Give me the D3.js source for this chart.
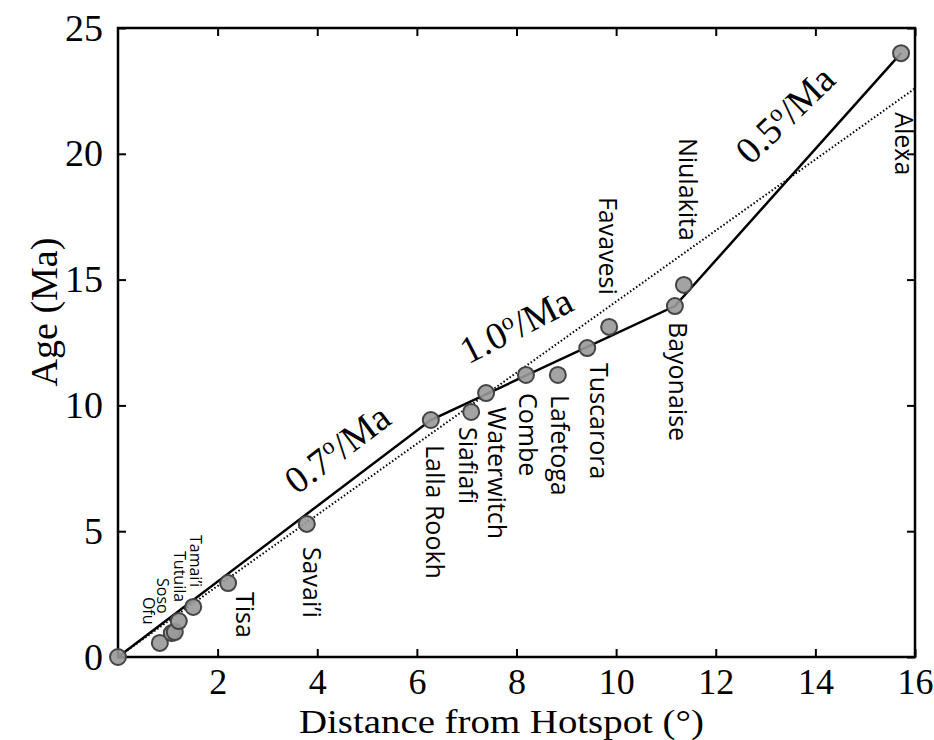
<!DOCTYPE html>
<html>
<head>
<meta charset="utf-8">
<script src="https://cdn.jsdelivr.net/npm/d3@7"></script>
<style>
  body { margin: 0; background: #fff; }
  svg { display: block; }
</style>
</head>
<body>
<svg id="chart" width="934" height="740"></svg>
<script>
// seamount distance from hotspot (deg) and age (Ma)
var names = ["", "Ofu", "Soso", "", "Tutuila", "Tamai\u2019i", "Tisa", "Savai\u2019i", "Lalla Rookh",
    "Siafiafi", "Waterwitch", "Combe", "Lafetoga", "Tuscarora", "Favavesi", "Bayonaise", "Niulakita", "Alexa"];
var distance = [0, 0.84, 1.08, 1.14, 1.22, 1.51, 2.21, 3.79, 6.28, 7.09, 7.39, 8.19, 8.83, 9.42, 9.86, 11.18, 11.36, 15.72];
var age = [0, 0.56, 0.95, 0.99, 1.43, 1.99, 2.94, 5.29, 9.42, 9.74, 10.49, 11.21, 11.21, 12.28, 13.12, 13.95, 14.79, 24.0];

// piecewise rate model and overall fit
var segDistance = [0, 6.28, 11.18, 15.72];
var segAge = [0, 9.42, 13.95, 24.0];
var fitDistance = [0, 16];
var fitAge = [0, 22.6];

var rateLabels = ["0.7", "1.0", "0.5"];
var xTicks = [2, 4, 6, 8, 10, 12, 14, 16];
var yTicks = [0, 5, 10, 15, 20, 25];

// label placement, px offsets from the point (rotated 90deg, reading down)
var labelOffset = {
    "Ofu": [-17, -46, 16], "Soso": [-15, -55, 16], "Tutuila": [-5, -70, 16], "Tamai\u2019i": [-3, -72, 16],
    "Tisa": [8, 9, 25], "Savai\u2019i": [-4, 23, 25], "Lalla Rookh": [-5, 25, 25], "Siafiafi": [-12, 15, 25],
    "Waterwitch": [2, 14, 25], "Combe": [-7, 18, 25], "Lafetoga": [-7, 20, 25], "Tuscarora": [3, 15, 25],
    "Favavesi": [-10, -130, 25], "Bayonaise": [-6, 16, 25], "Niulakita": [-5, -147, 25], "Alexa": [-6, 59, 25]
};
// rate label: angle, baseline centre x, y
var ratePlace = [[-37, 345, 459], [-27, 522, 337], [-44, 794, 124]];

var svg = d3.select('#chart');
var margin = {top: 28, right: 19, bottom: 83, left: 118},
    width = 934 - margin.left - margin.right,
    height = 740 - margin.top - margin.bottom;

var g = svg.append('g').attr('transform', 'translate(' + margin.left + ',' + margin.top + ')');

var xScale = d3.scaleLinear().domain([0, 16]).range([0, width]);
var yScale = d3.scaleLinear().domain([0, 25]).range([height, 0]);

var serif = '"Liberation Serif", "Times New Roman", serif';
var sans = '"Open Sans", "Liberation Sans", sans-serif';
var tickSize = 8;

// inward ticks on all four sides
var axes = [
    {axis: d3.axisBottom(xScale).tickValues(xTicks), t: 'translate(0,' + height + ')', labels: true},
    {axis: d3.axisTop(xScale).tickValues(xTicks), t: 'translate(0,0)', labels: false},
    {axis: d3.axisLeft(yScale).tickValues(yTicks), t: 'translate(0,0)', labels: true},
    {axis: d3.axisRight(yScale).tickValues(yTicks), t: 'translate(' + width + ',0)', labels: false}
];
axes.forEach(function(a, i) {
    a.axis.tickSizeInner(-tickSize).tickSizeOuter(0).tickPadding(tickSize + 12);
    var ag = g.append('g').attr('transform', a.t).call(a.axis);
    ag.select('.domain').remove();
    ag.selectAll('.tick line').attr('stroke', '#000').attr('stroke-width', 2);
    ag.selectAll('.tick text').attr('font-family', serif).attr('font-size', 38).attr('fill', '#000');
    if (!a.labels) ag.selectAll('.tick text').remove();
    if (i === 2) ag.selectAll('.tick text').attr('x', -15);
    if (i === 0) ag.selectAll('.tick text').attr('font-size', 36).attr('y', 12).attr('dy', '0.7em');
});

g.append('rect').attr('width', width).attr('height', height)
    .attr('fill', 'none').attr('stroke', '#000').attr('stroke-width', 2.5);

var line = d3.line().x(function(d) { return xScale(d[0]); }).y(function(d) { return yScale(d[1]); });

g.append('path')
    .datum(fitDistance.map(function(d, i) { return [d, fitAge[i]]; }))
    .attr('d', line).attr('fill', 'none').attr('stroke', '#000')
    .attr('stroke-width', 2).attr('stroke-dasharray', '1.5,2.2');

g.append('path')
    .datum(segDistance.map(function(d, i) { return [d, segAge[i]]; }))
    .attr('d', line).attr('fill', 'none').attr('stroke', '#000').attr('stroke-width', 2.5);

var pts = distance.map(function(d, i) { return {x: d, y: age[i], name: names[i]}; });

g.selectAll('circle.pt').data(pts).enter().append('circle')
    .attr('class', 'pt')
    .attr('cx', function(d) { return xScale(d.x); })
    .attr('cy', function(d) { return yScale(d.y); })
    .attr('r', 8)
    .attr('fill', '#999')
    .attr('fill-opacity', 0.9)
    .attr('stroke', '#444')
    .attr('stroke-width', 2);

g.selectAll('text.name').data(pts.filter(function(d) { return d.name; })).enter().append('text')
    .attr('class', 'name')
    .attr('transform', function(d) {
        var o = labelOffset[d.name];
        return 'translate(' + (xScale(d.x) + o[0]) + ',' + (yScale(d.y) + o[1]) + ') rotate(90)';
    })
    .attr('font-family', sans)
    .attr('font-size', function(d) { return labelOffset[d.name][2]; })
    .attr('fill', '#000')
    .text(function(d) { return d.name; });

// rate annotations
rateLabels.forEach(function(r, i) {
    var p = ratePlace[i];
    var t = svg.append('text')
        .attr('transform', 'translate(' + p[1] + ',' + p[2] + ') rotate(' + p[0] + ')')
        .attr('text-anchor', 'middle')
        .attr('font-family', serif).attr('font-size', 38).attr('fill', '#000');
    t.append('tspan').text(r);
    t.append('tspan').attr('font-size', 24).attr('dy', -13).text('o');
    t.append('tspan').attr('dy', 13).text('/Ma');
});

svg.append('text')
    .attr('x', margin.left + width / 2 - 15).attr('y', 733)
    .attr('text-anchor', 'middle')
    .attr('textLength', 405).attr('lengthAdjust', 'spacingAndGlyphs')
    .attr('font-family', serif).attr('font-size', 34).attr('fill', '#000')
    .text('Distance from Hotspot (\u00b0)');

svg.append('text')
    .attr('transform', 'translate(57,' + 312 + ') rotate(-90)')
    .attr('text-anchor', 'middle')
    .attr('font-family', serif).attr('font-size', 38).attr('fill', '#000')
    .text('Age (Ma)');
</script>
</body>
</html>
